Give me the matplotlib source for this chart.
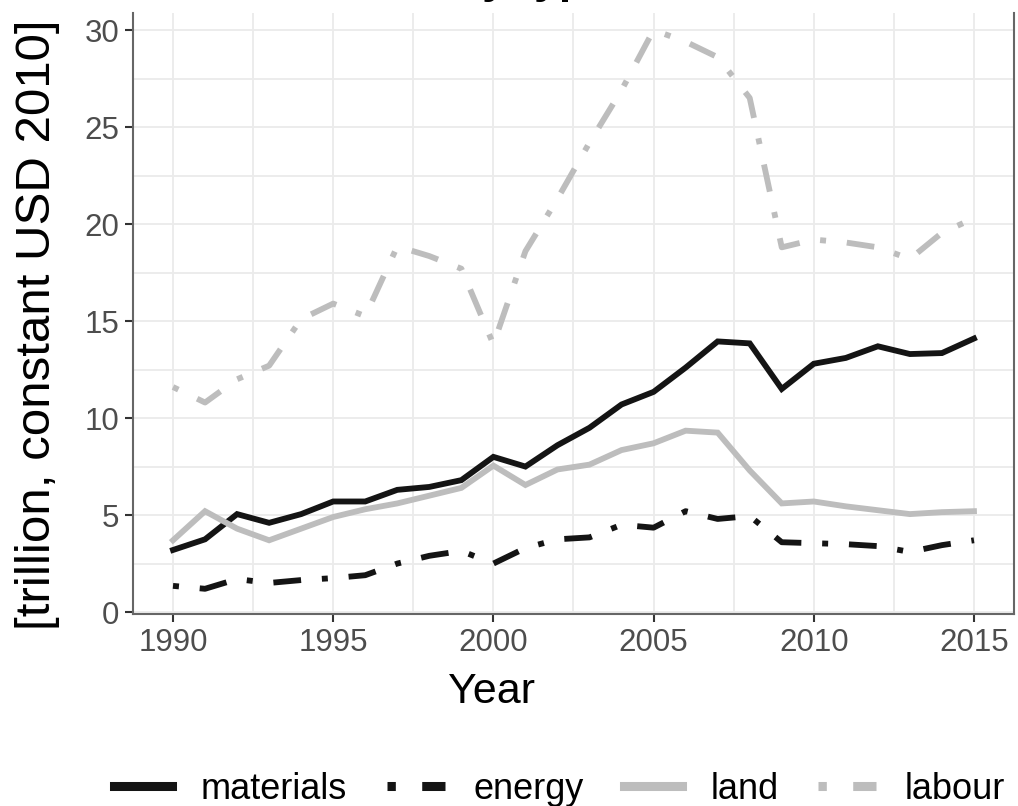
import matplotlib
matplotlib.use("Agg")
import matplotlib.pyplot as plt
from matplotlib.lines import Line2D
from matplotlib.ticker import MultipleLocator

plt.rcParams['font.family'] = ['Liberation Sans', 'DejaVu Sans']
plt.rcParams['lines.scale_dashes'] = False

# Data
years = list(range(1990, 2016))
materials = [3.2, 3.75, 5.05, 4.6, 5.05, 5.7, 5.7, 6.3, 6.45, 6.8, 8.0, 7.5, 8.6, 9.5, 10.7, 11.35,
             12.6, 13.95, 13.85, 11.5, 12.8, 13.1, 13.7, 13.3, 13.35, 14.1]
energy = [1.35, 1.2, 1.7, 1.5, 1.65, 1.75, 1.9, 2.5, 2.9, 3.15, 2.5, 3.3, 3.75, 3.85, 4.5, 4.35,
          5.2, 4.8, 4.95, 3.6, 3.55, 3.5, 3.4, 3.1, 3.45, 3.7]
land = [3.7, 5.2, 4.3, 3.7, 4.3, 4.9, 5.3, 5.6, 6.0, 6.4, 7.55, 6.55, 7.35, 7.6, 8.35, 8.7,
        9.35, 9.25, 7.3, 5.6, 5.7, 5.45, 5.25, 5.05, 5.15, 5.2]
labour = [11.6, 10.8, 12.0, 12.7, 15.1, 15.9, 15.25, 18.85, 18.35, 17.7, 13.8, 18.6, 21.3, 24.2,
          26.9, 30.0, 29.4, 28.6, 26.5, 18.8, 19.2, 19.05, 18.8, 18.2, 19.55, 20.3]

series_names = ["materials", "energy", "land", "labour"]
series_values = [materials, energy, land, labour]
colors = ["#141414", "#141414", "#bdbdbd", "#bdbdbd"]
dotdash = (0, (4.3, 15, 20, 15))
styles = ["-", dotdash, "-", dotdash]

fig = plt.figure(figsize=(10.18, 8.06), dpi=100)
ax = fig.add_axes([0.1306, 0.2382, 0.8655, 0.7457])

for vals, c, ls in zip(series_values, colors, styles):
    ax.plot(years, vals, color=c, linestyle=ls, linewidth=4.2,
            dash_capstyle='butt', solid_joinstyle='miter', zorder=3)

ax.set_xlim(1988.75, 2016.25)
ax.set_ylim(-0.1, 30.88)
ax.xaxis.set_major_locator(MultipleLocator(5))
ax.xaxis.set_minor_locator(MultipleLocator(2.5))
ax.yaxis.set_major_locator(MultipleLocator(5))
ax.yaxis.set_minor_locator(MultipleLocator(2.5))
ax.grid(which='both', color='#ebebeb', linewidth=1.3, zorder=0)
ax.set_axisbelow(True)

ax.tick_params(which='major', length=6, width=1.5, color='#333333',
               labelsize=22.5, labelcolor='#4d4d4d', pad=4)
ax.tick_params(which='minor', length=0)

for side in ['left', 'right', 'bottom']:
    ax.spines[side].set_color('#666666')
    ax.spines[side].set_linewidth(1.5)
ax.spines['top'].set_visible(False)

ax.set_xlabel("Year", fontsize=31)
ax.xaxis.set_label_coords(0.4075, -0.097)
ax.set_ylabel("[trillion, constant USD 2010]", fontsize=35.5)
ax.yaxis.set_label_coords(-0.083, 0.481)

# title of the original figure, cropped at the top edge
fig.text(0.447, 1.0085, "by type", fontsize=32, fontweight='bold',
         ha='left', va='baseline')

leg_dash = (0, (6, 19, 25, 19))
handles = [Line2D([], [], color=c, linewidth=6.5, linestyle=(leg_dash if ls != '-' else '-'),
                  dash_capstyle='butt') for c, ls in zip(colors, styles)]
fig.legend(handles, series_names, loc='center', bbox_to_anchor=(0.55, 0.021),
           ncol=4, frameon=False, fontsize=26, handlelength=1.6,
           handletextpad=0.8, columnspacing=1.1, borderaxespad=0)

fig.savefig("out.png", dpi=100)
